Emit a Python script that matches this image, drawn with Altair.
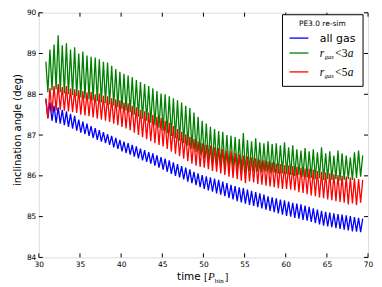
import altair as alt
import pandas as pd

# ---- data (peaks and troughs of each oscillating series)
time_start = 30.85     # first sample (a peak)
half_period = 0.25     # spacing between successive peak / trough samples

blue_peaks = [87.88, 87.80, 87.72, 87.68, 87.62, 87.58, 87.52, 87.47, 87.38, 87.33,
              87.28, 87.22, 87.17, 87.12, 87.07, 87.02, 86.98, 86.93, 86.88, 86.84,
              86.80, 86.76, 86.72, 86.67, 86.63, 86.58, 86.55, 86.50, 86.46, 86.42,
              86.38, 86.33, 86.29, 86.24, 86.20, 86.16, 86.10, 86.06, 86.02, 85.99,
              85.96, 85.93, 85.90, 85.86, 85.82, 85.78, 85.75, 85.72, 85.70, 85.66,
              85.63, 85.60, 85.57, 85.54, 85.50, 85.47, 85.45, 85.42, 85.40, 85.37,
              85.34, 85.32, 85.30, 85.27, 85.24, 85.20, 85.17, 85.14, 85.12, 85.10,
              85.08, 85.06, 85.05, 85.03, 85.01, 84.99, 84.97, 84.95]
blue_troughs = [87.42, 87.35, 87.30, 87.28, 87.24, 87.20, 87.16, 87.11, 87.06, 87.02,
                86.98, 86.93, 86.88, 86.84, 86.80, 86.76, 86.70, 86.66, 86.60, 86.56,
                86.52, 86.47, 86.43, 86.38, 86.34, 86.30, 86.25, 86.20, 86.15, 86.10,
                86.05, 86.00, 85.96, 85.91, 85.86, 85.82, 85.77, 85.72, 85.68, 85.64,
                85.61, 85.57, 85.54, 85.50, 85.46, 85.42, 85.38, 85.35, 85.32, 85.29,
                85.26, 85.23, 85.20, 85.17, 85.14, 85.11, 85.08, 85.05, 85.02, 85.00,
                84.97, 84.95, 84.92, 84.90, 84.87, 84.84, 84.81, 84.78, 84.76, 84.74,
                84.72, 84.70, 84.68, 84.66, 84.64, 84.63, 84.62]

green_peaks = [88.80, 89.10, 89.22, 89.45, 89.20, 89.25, 89.10, 89.15, 89.00, 89.05,
               88.95, 88.92, 88.90, 88.86, 88.80, 88.78, 88.70, 88.62, 88.55, 88.50,
               88.46, 88.42, 88.35, 88.30, 88.25, 88.20, 88.15, 88.08, 88.02, 88.00,
               87.95, 87.90, 87.85, 87.80, 87.72, 87.66, 87.55, 87.45, 87.35, 87.28,
               87.20, 87.15, 87.10, 87.08, 87.00, 86.98, 86.95, 86.90, 87.05, 86.88,
               86.85, 86.92, 86.82, 86.80, 86.85, 86.78, 86.80, 86.75, 86.82, 86.70,
               86.75, 86.65, 86.62, 86.68, 86.60, 86.65, 86.58, 86.70, 86.55, 86.60,
               86.50, 86.62, 86.55, 86.50, 86.45, 86.58, 86.62, 86.50]
green_troughs = [88.05, 88.10, 88.12, 88.05, 88.02, 88.00, 87.98, 87.95, 87.92, 87.90,
                 87.88, 87.85, 87.83, 87.80, 87.78, 87.75, 87.72, 87.68, 87.64, 87.60,
                 87.56, 87.50, 87.45, 87.40, 87.35, 87.30, 87.24, 87.18, 87.10, 87.04,
                 86.98, 86.92, 86.86, 86.80, 86.74, 86.66, 86.58, 86.50, 86.42, 86.35,
                 86.30, 86.26, 86.22, 86.20, 86.18, 86.16, 86.14, 86.10, 86.05, 86.12,
                 86.10, 86.10, 86.08, 86.10, 86.06, 86.08, 86.05, 86.06, 86.04, 86.02,
                 86.00, 86.02, 85.98, 85.96, 85.95, 85.92, 85.94, 85.90, 85.92, 85.90,
                 85.92, 85.88, 85.90, 85.92, 85.90, 85.95, 85.98]

red_peaks = [87.90, 88.15, 88.20, 88.25, 88.18, 88.20, 88.14, 88.12, 88.10, 88.08,
             88.05, 88.06, 88.00, 88.02, 87.96, 87.95, 87.90, 87.88, 87.85, 87.80,
             87.78, 87.72, 87.68, 87.62, 87.58, 87.55, 87.50, 87.45, 87.42, 87.35,
             87.30, 87.22, 87.15, 87.08, 87.02, 86.96, 86.90, 86.85, 86.80, 86.76,
             86.74, 86.70, 86.68, 86.66, 86.62, 86.60, 86.56, 86.53, 86.50, 86.48,
             86.45, 86.43, 86.40, 86.38, 86.35, 86.33, 86.30, 86.28, 86.26, 86.25,
             86.24, 86.22, 86.20, 86.18, 86.17, 86.15, 86.12, 86.10, 86.08, 86.06,
             86.04, 86.02, 86.00, 85.98, 85.96, 85.94, 85.92, 85.90]
red_troughs = [87.40, 87.55, 87.60, 87.62, 87.60, 87.58, 87.56, 87.54, 87.50, 87.48,
               87.46, 87.43, 87.40, 87.38, 87.35, 87.32, 87.28, 87.24, 87.20, 87.16,
               87.12, 87.06, 87.00, 86.95, 86.90, 86.85, 86.80, 86.76, 86.72, 86.66,
               86.60, 86.54, 86.48, 86.42, 86.36, 86.30, 86.25, 86.22, 86.20, 86.16,
               86.12, 86.10, 86.06, 86.02, 85.98, 85.95, 85.92, 85.88, 85.82, 85.86,
               85.84, 85.80, 85.78, 85.76, 85.74, 85.72, 85.70, 85.68, 85.68, 85.66,
               85.64, 85.60, 85.58, 85.55, 85.52, 85.50, 85.47, 85.45, 85.42, 85.40,
               85.38, 85.36, 85.34, 85.30, 85.32, 85.28, 85.34]

x_ticks = [30, 35, 40, 45, 50, 55, 60, 65, 70]
y_ticks = [84, 85, 86, 87, 88, 89, 90]
legend_title = "PE3.0 re-sim"

W, H = 331, 246
FONT = "DejaVu Sans"


def build(peaks, troughs, name):
    rows = []
    for k, p in enumerate(peaks):
        rows.append((time_start + 2 * half_period * k, p))
        if k < len(troughs):
            rows.append((time_start + 2 * half_period * k + half_period, troughs[k]))
    df = pd.DataFrame(rows, columns=["t", "v"])
    df["series"] = name
    return df


xscale = alt.Scale(domain=[30, 70], nice=False, zero=False)
yscale = alt.Scale(domain=[84, 90], nice=False, zero=False)
xaxis = alt.Axis(values=x_ticks, format="d", ticks=False, domain=False, grid=False,
                 labelPadding=3, title=None, labelFontSize=7.5, labelColor="black",
                 labelFont=FONT, labelFlush=False, labelOverlap=False)
yaxis = alt.Axis(values=y_ticks, format="d", ticks=False, domain=False, grid=False,
                 labelPadding=3, title=None, labelFontSize=7.5, labelColor="black",
                 labelFont=FONT, labelFlush=False, labelOverlap=False)


def line(df, color):
    return alt.Chart(df).mark_line(color=color, strokeWidth=1.3).encode(
        x=alt.X("t:Q", scale=xscale, axis=xaxis),
        y=alt.Y("v:Q", scale=yscale, axis=yaxis),
    )


layers = [
    line(build(blue_peaks, blue_troughs, "all gas"), "#0000ff"),
    line(build(green_peaks, green_troughs, "r_gas<3a"), "#008000"),
    line(build(red_peaks, red_troughs, "r_gas<5a"), "#ff0000"),
]

# inward ticks on all four sides
xt = pd.DataFrame({"t": x_ticks})
yt = pd.DataFrame({"v": y_ticks})
for y0, y1 in [(H, H - 4), (0, 4)]:
    layers.append(alt.Chart(xt).mark_rule(color="black", strokeWidth=1).encode(
        x=alt.X("t:Q", scale=xscale, axis=xaxis), y=alt.value(y0), y2=alt.value(y1)))
for x0, x1 in [(0, 4), (W, W - 4)]:
    layers.append(alt.Chart(yt).mark_rule(color="black", strokeWidth=1).encode(
        y=alt.Y("v:Q", scale=yscale, axis=yaxis), x=alt.value(x0), x2=alt.value(x1)))

one = pd.DataFrame({"a": [0]})


def txt(s, x, y, size, font=FONT, style="normal", align="left", angle=0):
    kw = dict(text=s, fontSize=size, font=font, fontStyle=style, align=align,
              baseline="alphabetic", color="black")
    if angle:
        kw["angle"] = angle
    return alt.Chart(one).mark_text(**kw).encode(x=alt.value(x), y=alt.value(y))


SERIF = "Liberation Serif"
# axis titles
layers.append(txt("inclination angle (deg)", -18, 118, 10, align="center", angle=270))
layers.append(txt("time", 139, 269, 10.5))
layers.append(txt("[", 166, 269, 11, font=SERIF))
layers.append(txt("P", 170, 269, 11, font=SERIF, style="italic"))
layers.append(txt("bin", 177, 271.5, 7, font=SERIF))
layers.append(txt("]", 187, 269, 11, font=SERIF))

# legend box
layers.append(alt.Chart(one).mark_rect(fill="white", stroke="black", strokeWidth=1).encode(
    x=alt.value(245), x2=alt.value(326), y=alt.value(2), y2=alt.value(74)))
layers.append(txt(legend_title, 285, 13, 7.5, align="center"))
for yy, col in [(25.5, "#0000ff"), (40.5, "#008000"), (59.5, "#ff0000")]:
    layers.append(alt.Chart(one).mark_rule(color=col, strokeWidth=1.3).encode(
        x=alt.value(252), x2=alt.value(271), y=alt.value(yy)))
layers.append(txt("all gas", 282.5, 29, 11))
for yb, num in [(44.5, "<3"), (63.5, "<5")]:
    layers.append(txt("r", 282.5, yb, 11.5, font=SERIF, style="italic"))
    layers.append(txt("gas", 287.5, yb + 2.5, 6.5, font=SERIF, style="italic"))
    layers.append(txt(num, 298, yb, 11.5, font=SERIF))
    layers.append(txt("a", 310.5, yb, 11.5, font=SERIF, style="italic"))

chart = alt.layer(*layers).properties(
    width=W, height=H,
    autosize=alt.AutoSizeParams(type="none"),
    padding={"left": 31, "top": 4, "right": 6, "bottom": 28},
).configure_view(stroke="black", strokeWidth=1).configure(background="white")

chart.save("out.html", embed_options={"renderer": "svg", "actions": False})
